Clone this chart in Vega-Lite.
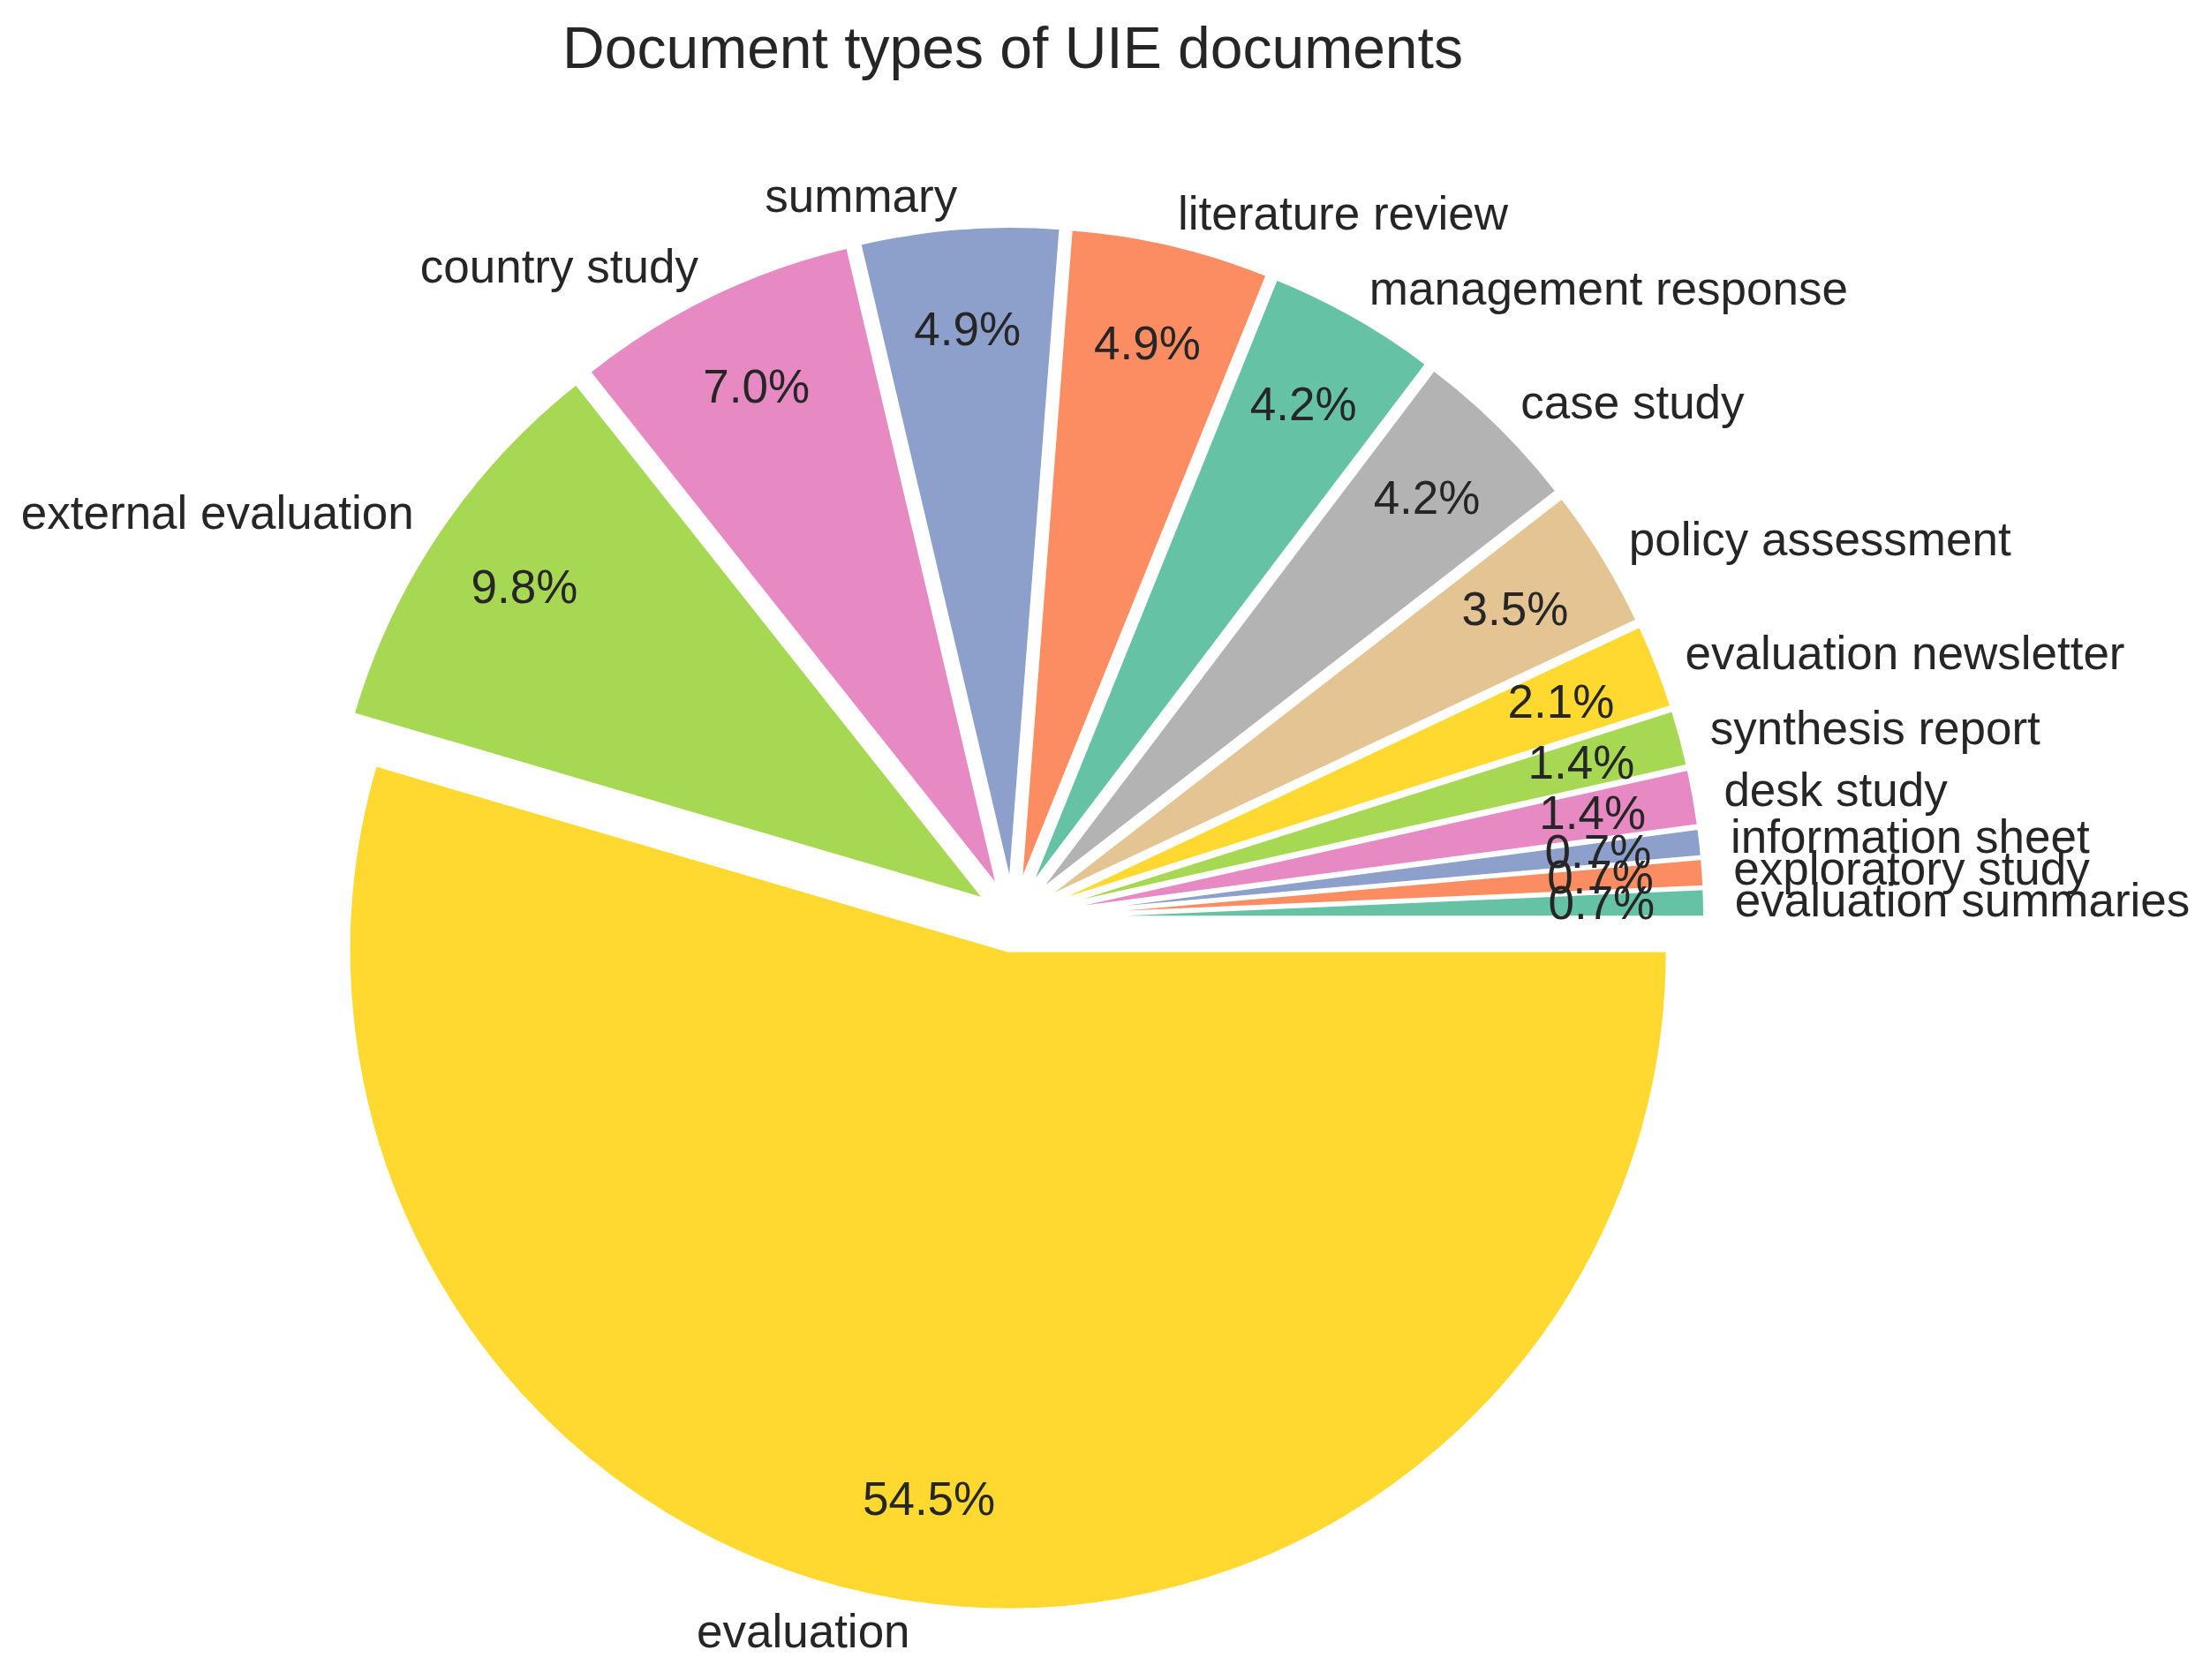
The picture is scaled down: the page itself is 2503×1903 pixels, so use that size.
{
  "$schema": "https://vega.github.io/schema/vega-lite/v6.json",
  "width": 2294,
  "height": 1726,
  "autosize": {"type": "none"},
  "padding": {"left": 0, "top": 177, "right": 209, "bottom": 0},
  "background": "white",
  "config": {"view": {"stroke": null}},
  "title": {
    "text": "Document types of UIE documents",
    "font": "Liberation Sans",
    "fontSize": 66,
    "fontWeight": "normal",
    "color": "#262626",
    "anchor": "middle",
    "frame": "group",
    "baseline": "alphabetic",
    "offset": 34
  },
  "data": {
    "values": [
      {"type": "evaluation summaries", "count": 1, "rank": 1, "pct": "0.7%"},
      {"type": "exploratory study", "count": 1, "rank": 2, "pct": "0.7%"},
      {"type": "information sheet", "count": 1, "rank": 3, "pct": "0.7%"},
      {"type": "desk study", "count": 2, "rank": 4, "pct": "1.4%"},
      {"type": "synthesis report", "count": 2, "rank": 5, "pct": "1.4%"},
      {"type": "evaluation newsletter", "count": 3, "rank": 6, "pct": "2.1%"},
      {"type": "policy assessment", "count": 5, "rank": 7, "pct": "3.5%"},
      {"type": "case study", "count": 6, "rank": 8, "pct": "4.2%"},
      {"type": "management response", "count": 6, "rank": 9, "pct": "4.2%"},
      {"type": "literature review", "count": 7, "rank": 10, "pct": "4.9%"},
      {"type": "summary", "count": 7, "rank": 11, "pct": "4.9%"},
      {"type": "country study", "count": 10, "rank": 12, "pct": "7.0%"},
      {"type": "external evaluation", "count": 14, "rank": 13, "pct": "9.8%"},
      {"type": "evaluation", "count": 78, "rank": 14, "pct": "54.5%"}
    ]
  },
  "encoding": {
    "theta": {"field": "count", "type": "quantitative", "stack": true, "scale": {"range": [1.5707963, -4.7123890]}},
    "order": {"field": "rank", "type": "quantitative"},
    "detail": {"field": "type", "type": "nominal"}
  },
  "layer": [
    {
      "mark": {
        "type": "arc",
        "outerRadius": 747,
        "stroke": "white",
        "strokeWidth": 4,
        "xOffset": {"expr": "37*sin(scale('theta', 0.5*datum.count_start + 0.5*datum.count_end))"},
        "yOffset": {"expr": "-37*cos(scale('theta', 0.5*datum.count_start + 0.5*datum.count_end))"}
      },
      "encoding": {
        "color": {
          "field": "type",
          "type": "nominal",
          "legend": null,
          "scale": {
            "domain": ["evaluation summaries", "exploratory study", "information sheet", "desk study", "synthesis report", "evaluation newsletter", "policy assessment", "case study", "management response", "literature review", "summary", "country study", "external evaluation", "evaluation"],
            "range": ["#66c2a5", "#fc8d62", "#8da0cb", "#e78ac3", "#a6d854", "#ffd92f", "#e5c494", "#b3b3b3", "#66c2a5", "#fc8d62", "#8da0cb", "#e78ac3", "#a6d854", "#ffd92f"]
          }
        }
      }
    },
    {
      "mark": {
        "type": "text",
        "radius": 818,
        "font": "Liberation Sans",
        "fontSize": 53,
        "color": "#262626",
        "baseline": "middle",
        "align": {"expr": "sin(scale('theta', 0.5*datum.count_start + 0.5*datum.count_end)) > 0 ? 'left' : 'right'"}
      },
      "encoding": {"text": {"field": "type", "type": "nominal"}}
    },
    {
      "mark": {
        "type": "text",
        "radius": 667,
        "font": "Liberation Sans",
        "fontSize": 53,
        "color": "#262626",
        "baseline": "middle",
        "align": "center"
      },
      "encoding": {"text": {"field": "pct", "type": "nominal"}}
    }
  ]
}
